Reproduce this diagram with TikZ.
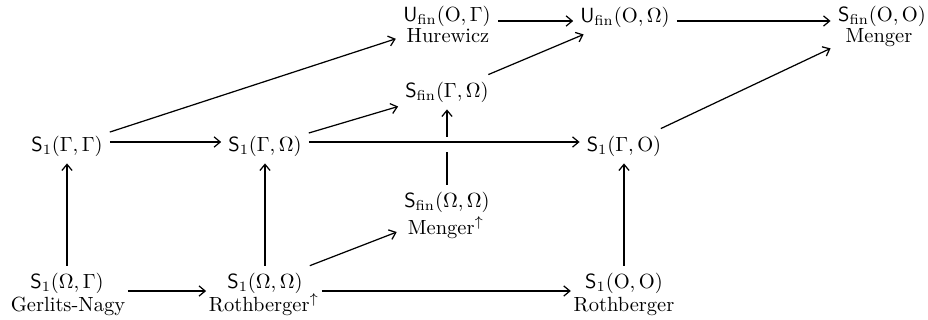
\documentclass[tikz,border=0pt]{standalone}
\usetikzlibrary{arrows.meta,fit}
\begin{document}
\begin{tikzpicture}[x=0.4878pt,y=-0.4878pt,
  ar/.style={line width=0.6pt,-{Straight Barb[length=3pt,width=5pt]}},
  plain/.style={line width=0.6pt},
  mth/.style={inner sep=3.3pt},
  nm/.style={anchor=base,inner sep=1pt},
  box/.style={inner sep=0pt}]
\useasboundingbox (0,0) rectangle (928,320);
% row heights of horizontal arrows
\coordinate (rowT) at (0,21);
\coordinate (rowM) at (0,142);
\coordinate (rowB) at (0,291);
% nodes
\node[mth] (gg) at (67,146) {$\mathsf{S}_1(\Gamma,\Gamma)$};
\node[mth] (go) at (265,146) {$\mathsf{S}_1(\Gamma,\Omega)$};
\node[mth] (gO) at (624,146) {$\mathsf{S}_1(\Gamma,\mathrm{O})$};
\node[mth] (sfgo) at (447,92) {$\mathsf{S}_{\mathrm{fin}}(\Gamma,\Omega)$};
\node[mth] (ufg) at (447,16) {$\mathsf{U}_{\mathrm{fin}}(\mathrm{O},\Gamma)$};
\node[nm] (hur) at (448,43) {Hurewicz};
\node[mth] (ufo) at (625,17) {$\mathsf{U}_{\mathrm{fin}}(\mathrm{O},\Omega)$};
\node[mth] (sfoo) at (882,16) {$\mathsf{S}_{\mathrm{fin}}(\mathrm{O},\mathrm{O})$};
\node[nm] (men) at (879,43) {Menger};
\node[mth] (sfww) at (447,202) {$\mathsf{S}_{\mathrm{fin}}(\Omega,\Omega)$};
\node[nm] (menu) at (446,234) {Menger$^{\uparrow}$};
\node[mth] (gn) at (67,283) {$\mathsf{S}_1(\Omega,\Gamma)$};
\node[nm] (gnn) at (68,311) {Gerlits-Nagy};
\node[mth] (rb) at (265,283) {$\mathsf{S}_1(\Omega,\Omega)$};
\node[nm] (rbn) at (264,311) {Rothberger$^{\uparrow}$};
\node[mth] (r) at (624,283) {$\mathsf{S}_1(\mathrm{O},\mathrm{O})$};
\node[nm] (rn) at (624,311) {Rothberger};
% combined boxes
\node[box,fit=(ufg)(hur)] (ufgB) {};
\node[box,fit=(sfoo)(men)] (sfooB) {};
\node[box,fit=(sfww)(menu)] (sfwwB) {};
\node[box,fit=(gn)(gnn)] (gnB) {};
\node[box,fit=(rb)(rbn)] (rbB) {};
\node[box,fit=(r)(rn)] (rB) {};
% horizontal arrows
\draw[ar] (ufgB.east |- rowT) -- (ufo.west |- rowT);
\draw[ar] (ufo.east |- rowT) -- (sfooB.west |- rowT);
\draw[ar] (gg.east |- rowM) -- (go.west |- rowM);
\draw[ar] (go.east |- rowM) -- (gO.west |- rowM);
\draw[ar] (gnB.east |- rowB) -- (rbB.west |- rowB);
\draw[ar] (rbB.east |- rowB) -- (rB.west |- rowB);
% vertical arrows
\draw[ar] (gn.north) -- (gg.south);
\draw[ar] (rb.north) -- (go.south);
\draw[ar] (r.north) -- (gO.south);
\coordinate (cx) at (sfgo.south |- rowM);
\draw[plain] (sfww.north) -- ([yshift=-5pt]cx);
\draw[ar] ([yshift=2.5pt]cx) -- (sfgo.south);
% diagonal arrows
\draw[ar] (gg) -- (ufgB);
\draw[ar] (go) -- (sfgo);
\draw[ar] (sfgo) -- (ufo);
\draw[ar] (gO) -- (sfooB);
\draw[ar] (rb) -- (sfwwB);
\end{tikzpicture}
\end{document}
